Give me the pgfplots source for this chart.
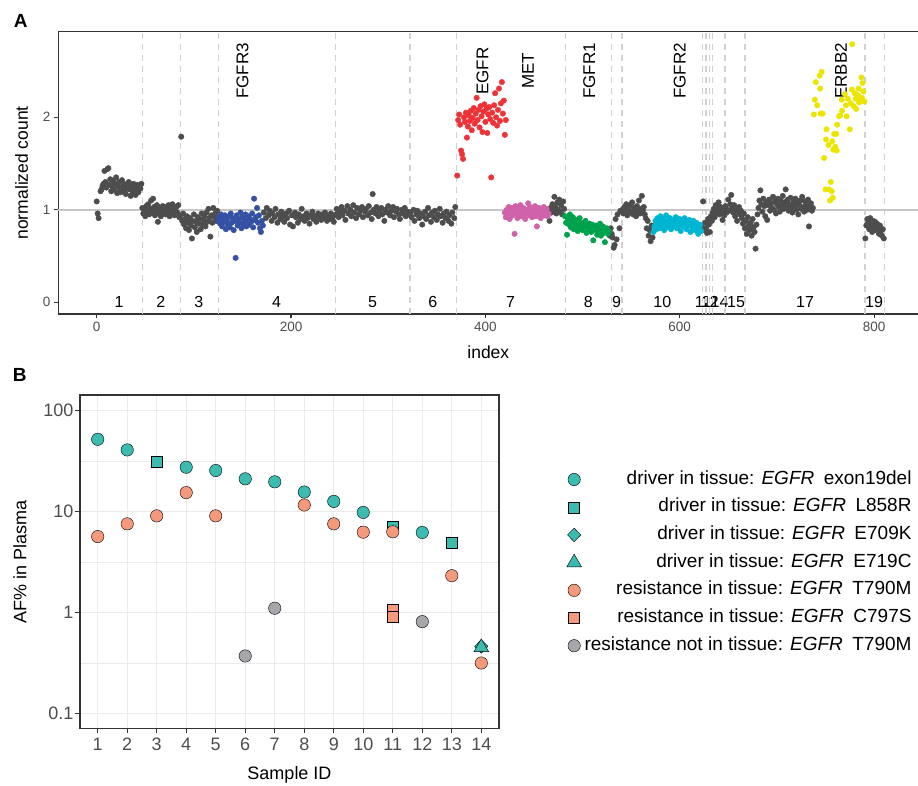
\documentclass[border=0pt]{standalone}
\usepackage{pgfplots}
\pgfplotsset{compat=1.18}
\usepackage{fontspec}
\setmainfont{Liberation Sans}
\newcommand{\fs}[1]{\fontsize{#1}{#1}\selectfont}

\definecolor{dotgray}{HTML}{4D4D4D}
\definecolor{cfgfr3}{HTML}{3451A3}
\definecolor{cegfr}{HTML}{EE3338}
\definecolor{cmet}{HTML}{CF62A8}
\definecolor{cfgfr1}{HTML}{00A14B}
\definecolor{cfgfr2}{HTML}{00B5D1}
\definecolor{cerbb2}{HTML}{ECE500}
\definecolor{cdriver}{HTML}{3CBBB1}
\definecolor{cresist}{HTML}{F4997B}
\definecolor{cnot}{HTML}{A7A7AB}
\definecolor{framec}{HTML}{333333}
\definecolor{gridc}{HTML}{EBEBEB}
\definecolor{tickc}{HTML}{4D4D4D}

\pgfplotsset{
  panel/.style={scale only axis, anchor=south west,
    axis line style={framec, line width=1.1pt},
    tick style={framec, line width=1.1pt},
    tick align=outside, major tick length=4.5pt, tick pos=left,
    /pgf/number format/assume math mode=true,
    ticklabel style={tickc}},
  cn/.style={mark=*, mark size=2.75pt, only marks, color=#1},
  pb/.style 2 args={only marks, mark=#1, mark size=#2,
    mark options={draw=black!65, line width=1.1pt},
    legend image code/.code={\draw[##1] plot coordinates {(0pt,0pt)};}},
}

\begin{document}
\begin{tikzpicture}
\useasboundingbox (0,0) rectangle (918pt,785pt);

% ---------------- panel A ----------------
\begin{axis}[panel, at={(58.3pt,471pt)}, width=860pt, height=282.3pt,
  xmin=-39.5, xmax=845.5, ymin=-0.1265, ymax=2.925,
  xtick={0,200,400,600,800}, ytick={0,1,2},
  ticklabel style={font=\fs{13.5}},
  axis on top,
  extra x ticks={47.3,86,125,246,322.4,370.5,482.7,529.6,540.6,623.2,627,630.4,634,646.7,667.3,790.7,810.5},
  extra x tick labels={},
  extra x tick style={grid=major, major tick length=0pt,
    major grid style={black!18, line width=1.3pt, dash pattern=on 6pt off 5pt}},
  extra y ticks={1}, extra y tick labels={},
  extra y tick style={grid=major, major tick length=0pt,
    major grid style={black!22, line width=1.8pt}},
  xlabel={index}, ylabel={normalized count},
  label style={font=\fs{17.5}},
  xlabel style={at={(axis description cs:0.5,-0.1346)}, anchor=center},
  ylabel style={at={(axis description cs:-0.04256,0.5)}, anchor=center},
]
\addplot[cn=dotgray] coordinates {
(0,1.09)(1,0.96)(2,0.91)(4,1.20)(5,1.22)(6,1.26)(7,1.28)(8,1.42)(9,1.30)(10,1.24)(11,1.44)(12,1.45)(13,1.27)(14,1.33)(15,1.20)(16,1.25)(17,1.31)(18,1.22)(19,1.28)(20,1.35)(21,1.18)(22,1.26)(23,1.30)(24,1.23)(25,1.19)(26,1.32)(27,1.25)(28,1.28)(29,1.21)(30,1.17)(31,1.27)(32,1.24)(33,1.30)(34,1.22)(35,1.15)(36,1.26)(37,1.20)(38,1.28)(39,1.24)(40,1.16)(41,1.22)(42,1.27)(43,1.19)(44,1.25)(45,1.23)(46,1.28)
(47,1.02)(48,0.96)(49,1.00)(50,0.93)(51,1.04)(52,0.98)(53,1.06)(54,0.95)(55,1.01)(56,1.10)(57,0.97)(58,1.12)(59,1.03)(60,0.94)(61,0.99)(62,1.05)(63,0.87)(64,0.96)(65,1.02)(66,0.93)(67,1.00)(68,1.04)(69,0.97)(70,1.03)(71,0.95)(72,1.01)(73,0.98)(74,1.05)(75,0.93)(76,1.00)(77,0.96)(78,1.06)(79,1.02)(80,0.94)(81,0.99)(82,1.03)(83,0.97)(84,1.05)(85,0.92)
(87,1.79)
(86,0.93)(88,0.88)(89,0.96)(90,0.84)(91,0.90)(92,0.80)(93,0.93)(94,0.86)(95,0.78)(96,0.91)(97,0.83)(98,0.69)(99,0.88)(100,0.95)(101,0.81)(102,0.87)(103,0.76)(104,0.92)(105,0.85)(106,0.90)(107,0.79)(108,0.96)(109,0.84)(110,0.89)(111,0.93)(112,0.82)(113,0.97)(114,0.87)(115,1.01)(116,0.91)(117,0.71)(118,0.94)(119,0.86)(120,1.02)(121,0.92)(122,0.96)(123,0.88)(124,0.99)
(172,0.97)(174,0.91)(175,1.02)(177,0.94)(178,0.99)(180,0.88)(181,0.96)(183,0.92)(184,1.01)(186,0.86)(187,0.95)(189,0.90)(190,0.98)(192,0.93)(193,0.87)(195,0.96)(196,0.91)(198,0.99)(199,0.84)(201,0.94)(202,0.82)(204,0.97)(205,0.92)(207,0.86)(208,0.95)(210,0.90)(211,1.01)(213,0.93)(214,0.88)(216,0.96)(217,0.91)(219,0.85)(220,0.94)(222,0.98)(223,0.90)(225,0.93)(226,0.87)(228,0.96)(229,0.92)(231,0.89)(232,0.95)(234,0.91)(235,0.97)(237,0.88)(238,0.93)(240,0.90)(241,0.96)(243,0.92)(244,0.87)
(246,0.95)(247,1.01)(249,0.92)(250,0.98)(252,1.03)(253,0.94)(255,0.99)(256,0.89)(258,1.04)(259,0.96)(261,1.00)(262,0.93)(264,1.05)(265,0.97)(267,0.91)(268,1.02)(270,0.95)(271,0.99)(273,1.03)(274,0.92)(276,0.98)(277,1.01)(279,0.94)(280,1.04)(282,0.97)(283,0.90)(284,1.17)(285,1.00)(287,0.96)(288,1.03)(290,0.93)(291,0.99)(293,1.02)(294,0.95)(296,0.88)(297,1.00)(299,0.97)(300,1.04)(302,0.94)(303,0.99)(305,1.03)(306,0.92)(308,0.98)(309,1.01)(311,0.95)(312,0.90)(314,1.00)(315,0.96)(317,1.02)(318,0.93)(320,0.98)(321,0.95)
(323,0.97)(324,0.92)(326,1.00)(327,0.88)(329,0.95)(330,0.99)(332,0.91)(333,0.96)(335,0.84)(336,0.93)(338,0.98)(339,0.90)(341,1.02)(342,0.94)(344,0.87)(345,0.97)(347,0.92)(348,0.99)(350,0.89)(351,0.95)(353,1.01)(354,0.93)(356,0.86)(357,0.96)(359,0.91)(360,0.98)(362,0.88)(363,0.94)(365,0.85)(366,0.97)(368,0.91)(369,1.03)
(466,0.88)(467,1.02)(468,0.97)(469,1.06)(470,0.99)(471,1.14)(472,1.03)(473,0.96)(474,1.08)(475,1.00)(476,1.11)(477,0.98)(478,1.05)(479,0.95)(480,1.09)(481,1.01)
(528,0.72)(529,0.80)(530,0.74)(531,0.70)(532,0.59)(533,0.62)(534,0.90)(535,0.68)(536,0.95)(538,0.80)(539,0.99)
(541,1.00)(542,0.96)(543,1.03)(544,0.98)(545,1.06)(546,0.94)(547,1.01)(548,0.99)(549,1.05)(550,0.97)(551,1.08)(552,0.95)(553,1.02)(554,1.00)(555,0.93)(556,1.04)(557,0.98)(558,1.10)(559,0.96)(560,1.01)(561,1.15)(562,0.99)(563,1.03)(564,0.95)(565,0.91)(566,0.80)(567,0.88)(568,0.72)(569,0.78)(570,0.66)(571,0.83)(572,0.70)
(623,0.81)(624,1.09)(625,0.78)(626,0.86)(627,0.80)(628,0.75)(629,0.90)(630,0.84)(631,0.76)(632,0.93)(633,0.88)(634,0.97)(635,1.01)(636,0.92)(637,1.05)(638,0.96)(639,1.00)(640,1.08)(641,0.95)(642,1.03)(643,0.98)(644,0.89)(645,1.01)(646,0.94)(647,1.04)(648,0.97)(649,1.00)(650,1.11)(651,0.99)(652,1.06)(653,1.16)(654,1.02)(655,0.97)(656,1.05)(657,0.93)(658,1.00)(659,0.88)(660,0.98)(661,1.03)(662,0.95)(663,0.99)(664,0.91)(665,0.85)(666,0.96)
(667,0.80)(668,0.88)(669,0.74)(670,0.92)(671,0.83)(672,0.78)(673,0.86)(674,0.72)(675,0.90)(676,0.81)(677,0.76)(678,0.58)(679,0.84)(680,0.95)(681,1.02)(682,1.10)(683,1.21)(684,1.06)(685,0.98)(686,1.12)(687,1.04)(688,0.93)(689,1.08)
(690,0.89)(691,1.05)(692,1.11)(693,0.99)(694,1.07)(695,1.02)(696,1.14)(697,1.00)(698,1.09)(699,0.96)(700,1.06)(701,1.12)(702,1.03)(703,0.98)(704,1.10)(705,1.05)(706,1.15)(707,1.01)(708,1.08)(709,1.22)(710,1.04)(711,1.11)(712,0.99)(713,1.06)(714,1.13)(715,1.02)(716,0.97)(717,1.08)(718,1.04)(719,1.12)(720,1.00)(721,1.07)(722,0.95)(723,1.05)(724,1.10)(725,1.01)(726,1.14)(727,1.03)(728,0.98)(729,1.09)(730,1.05)(731,1.00)(732,1.11)(733,0.82)(734,1.04)(735,1.07)(736,0.99)(737,1.02)
(791,0.69)(792,0.83)(793,0.90)(794,0.86)(795,0.79)(796,0.91)(797,0.84)(798,0.76)(799,0.88)(800,0.81)(801,0.87)(802,0.78)(803,0.85)(804,0.80)(805,0.74)(806,0.83)(807,0.77)(808,0.72)(809,0.79)(810,0.69)
};
\addplot[cn=cfgfr3] coordinates {
(125,0.88)(126,0.92)(127,0.85)(128,0.95)(129,0.82)(130,0.90)(131,0.87)(132,0.94)(133,0.79)(134,0.89)(135,0.84)(136,0.93)(137,0.81)(138,0.96)(139,0.86)(140,0.91)(141,0.78)(142,0.88)(143,0.48)(144,0.94)(145,0.83)(146,0.90)(147,0.86)(148,0.97)(149,0.80)(150,0.92)(151,0.85)(152,0.89)(153,0.95)(154,0.82)(155,0.88)(156,0.93)(157,0.84)(158,0.90)(159,0.87)(160,0.96)(161,0.81)(162,1.12)(163,0.89)(164,0.92)(165,1.02)(166,0.86)(167,0.94)(168,0.80)(169,0.76)(170,0.88)(171,0.83)
};
\addplot[cn=cegfr] coordinates {
(371,1.37)(372,1.97)(373,2.03)(374,1.92)(375,1.64)(376,1.60)(377,1.55)(378,2.00)(379,1.95)(380,2.05)(381,1.78)(382,1.90)(383,2.02)(384,1.96)(385,2.07)(386,1.86)(387,1.99)(388,2.10)(389,1.93)(390,2.04)(391,2.21)(392,1.97)(393,2.08)(394,1.89)(395,2.12)(396,2.01)(397,1.84)(398,2.06)(399,2.14)(400,1.95)(401,2.09)(402,1.83)(403,2.03)(404,2.11)(405,1.98)(406,1.35)(407,2.05)(408,1.94)(409,2.13)(410,2.26)(411,2.00)(412,1.91)(413,2.08)(414,2.31)(415,1.96)(416,2.15)(417,2.38)(418,2.04)(419,2.18)(420,1.81)(421,1.97)
};
\addplot[cn=cmet] coordinates {
(420,0.97)(421,0.92)(422,1.00)(423,0.95)(424,1.03)(425,0.90)(426,0.98)(427,1.02)(428,0.94)(429,0.99)(430,0.74)(431,1.04)(432,0.96)(433,0.91)(434,1.01)(435,0.97)(436,1.05)(437,0.93)(438,0.99)(439,1.02)(440,0.95)(441,0.90)(442,1.00)(443,0.97)(444,1.07)(445,0.94)(446,1.03)(447,0.98)(448,0.92)(449,1.01)(450,0.96)(451,1.04)(452,0.93)(453,0.82)(454,0.99)(455,1.02)(456,0.95)(457,0.91)(458,1.00)(459,0.97)(460,1.03)(461,0.94)(462,0.98)(463,1.01)(464,0.93)(465,0.96)
};
\addplot[cn=cfgfr1] coordinates {
(482,0.93)(483,0.86)(484,0.73)(485,0.90)(486,0.84)(487,0.95)(488,0.81)(489,0.88)(490,0.92)(491,0.79)(492,0.85)(493,0.89)(494,0.83)(495,0.77)(496,0.87)(497,0.91)(498,0.80)(499,0.84)(500,0.78)(501,0.86)(502,0.82)(503,0.88)(504,0.75)(505,0.83)(506,0.79)(507,0.85)(508,0.81)(509,0.76)(510,0.84)(511,0.67)(512,0.80)(513,0.78)(514,0.83)(515,0.73)(516,0.81)(517,0.77)(518,0.85)(519,0.72)(520,0.79)(521,0.82)(522,0.75)(523,0.65)(524,0.78)(525,0.80)(526,0.74)(527,0.77)
};
\addplot[cn=cfgfr2] coordinates {
(573,0.76)(574,0.82)(575,0.88)(576,0.79)(577,0.91)(578,0.85)(579,0.80)(580,0.93)(581,0.87)(582,0.83)(583,0.90)(584,0.78)(585,0.86)(586,0.94)(587,0.81)(588,0.88)(589,0.84)(590,0.91)(591,0.79)(592,0.87)(593,0.82)(594,0.89)(595,0.85)(596,0.92)(597,0.80)(598,0.86)(599,0.83)(600,0.90)(601,0.77)(602,0.85)(603,0.88)(604,0.82)(605,0.91)(606,0.84)(607,0.79)(608,0.87)(609,0.83)(610,0.89)(611,0.76)(612,0.85)(613,0.81)(614,0.88)(615,0.84)(616,0.78)(617,0.86)(618,0.82)(619,0.74)(620,0.80)(621,0.84)(622,0.77)
};
\addplot[cn=cerbb2] coordinates {
(738,2.03)(739,2.19)(740,2.38)(741.5,2.13)(744,2.45)(744.5,2.31)(745,2.04)(746,2.49)(747,2.04)(748.5,1.56)(750,1.22)(750.5,1.76)(751,1.87)(753,1.70)(753.5,1.22)(754.6,1.10)(755.5,1.30)(756.5,1.20)(757.5,1.13)(757,1.74)(758,1.65)(759,1.82)(760,1.68)(761,1.82)(761.5,1.64)(762,1.92)(764,2.01)(765,2.02)(766.7,2.19)(767,2.07)(770,2.25)(771,2.13)(771.7,2.01)(773,2.20)(775,1.87)(776,2.15)(777,2.30)(777.5,2.79)(779,2.12)(780,2.26)(781,2.20)(781.5,2.09)(783,2.24)(784,2.31)(784.5,2.16)(785,2.22)(786,2.19)(787,2.43)(787.5,2.21)(788,2.37)(789,2.28)(790,2.17)
};
\begin{scope}[font=\fs{16}]
\node at (axis cs:23,0) {1};
\node at (axis cs:66,0) {2};
\node at (axis cs:105,0) {3};
\node at (axis cs:185,0) {4};
\node at (axis cs:284,0) {5};
\node at (axis cs:346,0) {6};
\node at (axis cs:426,0) {7};
\node at (axis cs:506,0) {8};
\node at (axis cs:535,0) {9};
\node at (axis cs:582,0) {10};
\node at (axis cs:624,0) {11};
\node at (axis cs:631,0) {12};
\node at (axis cs:641,0) {14};
\node at (axis cs:658,0) {15};
\node at (axis cs:729,0) {17};
\node at (axis cs:800,0) {19};
\end{scope}
\begin{scope}[font=\fs{17}]
\node[rotate=90] at (axis cs:150,2.5) {FGFR3};
\node[rotate=90] at (axis cs:397,2.5) {EGFR};
\node[rotate=90] at (axis cs:444,2.5) {MET};
\node[rotate=90] at (axis cs:507,2.5) {FGFR1};
\node[rotate=90] at (axis cs:600,2.5) {FGFR2};
\node[rotate=90] at (axis cs:766,2.5) {ERBB2};
\end{scope}
\end{axis}

% ---------------- panel B ----------------
\begin{axis}[panel, ymode=log, at={(80pt,56.7pt)}, width=419pt, height=333.3pt,
  xmin=0.4, xmax=14.6, ymin=0.071, ymax=142.9,
  xtick={1,...,14}, ytick={0.1,1,10,100}, yticklabels={0.1,1,10,100},
  minor ytick={0.3162,3.162,31.62}, minor tick length=0pt,
  xmajorgrids, ymajorgrids, yminorgrids,
  major grid style={gridc, line width=1.1pt},
  minor grid style={gridc, line width=0.6pt},
  ticklabel style={font=\fs{18}},
  xticklabel style={inner ysep=5pt},
  yticklabel style={inner xsep=2pt},
  xlabel={Sample ID}, ylabel={AF\% in Plasma},
  label style={font=\fs{18}},
  xlabel style={at={(axis description cs:0.5,-0.1401)}, anchor=center},
  ylabel style={at={(axis description cs:-0.1432,0.5)}, anchor=center},
  legend cell align=right,
  legend style={at={(axis description cs:1.985,0.774)}, anchor=north east,
    draw=none, fill=none, inner sep=0pt, font=\fs{19},
    nodes={inner sep=0pt, text height=13.5pt, text depth=4.5pt},
    row sep=9.7pt,
    /tikz/every odd column/.append style={column sep=3pt}},
]
\addplot[pb={*}{6.2pt}, mark options={fill=cdriver}] coordinates {
(1,52)(2,40.8)(4,27.5)(5,25.5)(6,21.1)(7,19.7)(8,15.6)(9,12.6)(10,9.8)(12,6.2)};
\addlegendentry{driver in tissue: \textit{EGFR}\hspace{0.5em}exon19del}
\addplot[pb={square*}{5.5pt}, mark options={fill=cdriver}] coordinates {
(3,31.3)(11,7.1)(13,4.9)};
\addlegendentry{driver in tissue: \textit{EGFR}\hspace{0.5em}L858R}
\addplot[pb={diamond*}{6.8pt}, mark options={fill=cdriver, xscale=1.3}] coordinates {(14,0.46)};
\addlegendentry{driver in tissue: \textit{EGFR}\hspace{0.5em}E709K}
\addplot[pb={triangle*}{8.5pt}, mark options={fill=cdriver}] coordinates {(14,0.45)};
\addlegendentry{driver in tissue: \textit{EGFR}\hspace{0.5em}E719C}
\addplot[pb={*}{6.2pt}, mark options={fill=cresist}] coordinates {
(1,5.65)(2,7.55)(3,9.06)(4,15.4)(5,9.06)(8,11.6)(9,7.55)(10,6.24)(11,6.3)(13,2.31)(14,0.315)};
\addlegendentry{resistance in tissue: \textit{EGFR}\hspace{0.5em}T790M}
\addplot[pb={square*}{5.5pt}, mark options={fill=cresist}] coordinates {(11,1.06)(11,0.91)};
\addlegendentry{resistance in tissue: \textit{EGFR}\hspace{0.5em}C797S}
\addplot[pb={*}{6.2pt}, mark options={fill=cnot}] coordinates {(6,0.37)(7,1.1)(12,0.81)};
\addlegendentry{resistance not in tissue: \textit{EGFR}\hspace{0.5em}T790M}
\end{axis}

\node[font=\bfseries\fs{19}] at (20.8pt,764.3pt) {A};
\node[font=\bfseries\fs{19}] at (19.7pt,410.5pt) {B};
\end{tikzpicture}
\end{document}
